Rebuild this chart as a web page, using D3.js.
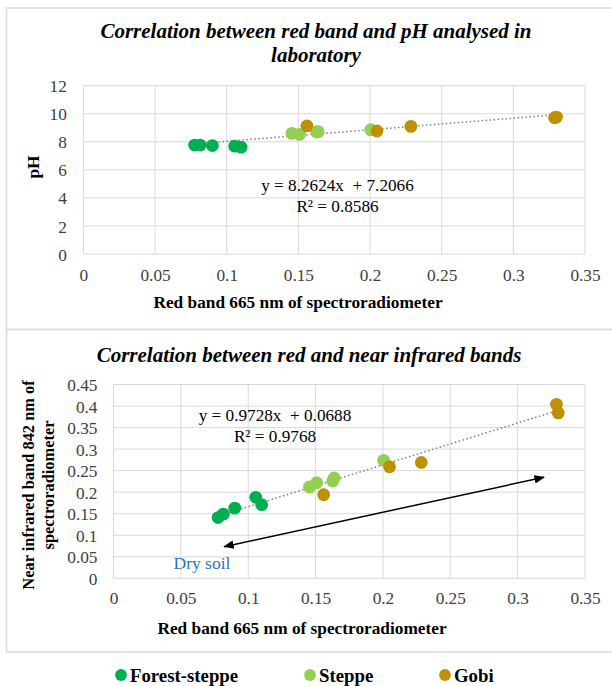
<!DOCTYPE html>
<html>
<head>
<meta charset="utf-8">
<script src="https://cdn.jsdelivr.net/npm/d3@7"></script>
<style>
  body { margin: 0; background: #fff; }
  svg { display: block; }
  .grid line { stroke: #d9d9d9; stroke-width: 1; }
  .tick text { fill: #404040; }
</style>
</head>
<body>
<svg id="chart" width="612" height="686"></svg>
<script>
// sample groups, in draw order
const groups = ["Forest-steppe", "Steppe", "Gobi"];
const groupColors = ["#00b050", "#92d050", "#bf9000"];

// red band 665 nm (x) for each group
const redForest = [0.0776, 0.0815, 0.0900, 0.1056, 0.1100];
const redSteppe = [0.1455, 0.1508, 0.1628, 0.1638, 0.2005];
const redGobi = [0.1560, 0.2049, 0.2285, 0.3288, 0.3301];

// pH analysed in laboratory
const phForest = [7.77, 7.77, 7.73, 7.69, 7.62];
const phSteppe = [8.6, 8.53, 8.7, 8.72, 8.86];
const phGobi = [9.13, 8.77, 9.1, 9.72, 9.76];

// near infrared band 842 nm
const nirForest = [0.141, 0.149, 0.163, 0.188, 0.171];
const nirSteppe = [0.212, 0.222, 0.226, 0.233, 0.274];
const nirGobi = [0.194, 0.259, 0.269, 0.404, 0.384];

const xTicks = [0, 0.05, 0.1, 0.15, 0.2, 0.25, 0.3, 0.35];
const phTicks = [0, 2, 4, 6, 8, 10, 12];
const nirTicks = [0, 0.05, 0.1, 0.15, 0.2, 0.25, 0.3, 0.35, 0.4, 0.45];

const phFit = { slope: 8.2624, intercept: 7.2066, label: "y = 8.2624x  + 7.2066", r2: "R² = 0.8586" };
const nirFit = { slope: 0.9728, intercept: 0.0688, label: "y = 0.9728x  + 0.0688", r2: "R² = 0.9768" };

// "dry soil" arrow end points, in data units of the lower chart
const arrowFrom = [0.0822, 0.0735];
const arrowTo = [0.3195, 0.2345];

const FONT = "Liberation Serif, Tinos, Times New Roman, DejaVu Serif, serif";
const svg = d3.select("#chart").style("font-family", FONT);

function pointsFor(xs, ys) {
  return xs.map((x, i) => ({ x, y: ys[i] }));
}

function drawPanel(cfg) {
  const g = svg.append("g");
  // panel frame
  g.append("rect").attr("x", 6.5).attr("y", cfg.top + 0.5).attr("width", 620).attr("height", cfg.height)
    .attr("fill", "#fff").attr("stroke", "#d9d9d9").attr("stroke-width", 1.5);

  const x = d3.scaleLinear().domain([0, 0.35]).range([cfg.left, 585]);
  const y = d3.scaleLinear().domain([0, cfg.yMax]).range([cfg.bottom, cfg.plotTop]);

  g.append("g").attr("class", "grid")
    .selectAll("line.h").data(cfg.yTicks).join("line")
    .attr("x1", cfg.left).attr("x2", 585).attr("y1", (d) => y(d)).attr("y2", (d) => y(d));
  g.append("g").attr("class", "grid")
    .selectAll("line.v").data(xTicks).join("line")
    .attr("x1", (d) => x(d)).attr("x2", (d) => x(d)).attr("y1", cfg.plotTop).attr("y2", cfg.bottom);

  const xAxis = g.append("g").attr("transform", `translate(0,${cfg.bottom})`)
    .call(d3.axisBottom(x).tickValues(xTicks).tickSize(0).tickPadding(cfg.xPad).tickFormat((d) => String(+d.toFixed(2))));
  xAxis.attr("font-family", null).attr("font-size", 17.3);
  xAxis.select(".domain").remove();
  const yAxis = g.append("g").attr("transform", `translate(${cfg.left},0)`)
    .call(d3.axisLeft(y).tickValues(cfg.yTicks).tickSize(0).tickPadding(cfg.yPad).tickFormat((d) => String(+d.toFixed(2))));
  yAxis.attr("font-family", null).attr("font-size", 17.3);
  yAxis.select(".domain").remove();
  yAxis.selectAll("text").attr("dy", "0.35em");

  // trendline over the sample range
  const all = cfg.series.flat();
  const [x0, x1] = d3.extent(all, (d) => d.x);
  g.append("line")
    .attr("x1", x(x0)).attr("y1", y(cfg.fit.slope * x0 + cfg.fit.intercept))
    .attr("x2", x(x1)).attr("y2", y(cfg.fit.slope * x1 + cfg.fit.intercept))
    .attr("stroke", "#7f7f7f").attr("stroke-width", 1.5).attr("stroke-dasharray", "1.5,2.5");

  cfg.series.forEach((pts, i) => {
    g.append("g").selectAll("circle").data(pts).join("circle")
      .attr("cx", (d) => x(d.x)).attr("cy", (d) => y(d.y)).attr("r", 6.4)
      .attr("fill", groupColors[i]);
  });

  cfg.title.forEach((t, i) => {
    g.append("text").attr("x", cfg.titleX).attr("y", cfg.titleY + i * 24).attr("text-anchor", "middle")
      .attr("font-size", 21).attr("font-weight", "bold").attr("font-style", "italic").attr("fill", "#000").text(t);
  });

  g.append("text").attr("x", cfg.eqX).attr("y", cfg.eqY).attr("text-anchor", "middle")
    .attr("font-size", 17.2).attr("fill", "#000").style("white-space", "pre").text(cfg.fit.label);
  g.append("text").attr("x", cfg.eqX).attr("y", cfg.eqY + 21).attr("text-anchor", "middle")
    .attr("font-size", 17.2).attr("fill", "#000").text(cfg.fit.r2);

  g.append("text").attr("x", cfg.xLabelX).attr("y", cfg.xLabelY).attr("text-anchor", "middle")
    .attr("font-size", 17.3).attr("font-weight", "bold").text("Red band 665 nm of spectroradiometer");

  cfg.yLabel.forEach((t, i) => {
    g.append("text").attr("transform", `translate(${cfg.yLabelX + i * 20},${cfg.yLabelY}) rotate(-90)`)
      .attr("text-anchor", "middle").attr("font-size", cfg.yLabelSize).attr("font-weight", "bold").text(t);
  });
  return { x, y, g };
}

drawPanel({
  top: 7.5, height: 321.5, left: 83.4, plotTop: 85.7, bottom: 254, yMax: 12, yTicks: phTicks, yPad: 16.5, xPad: 15,
  series: [pointsFor(redForest, phForest), pointsFor(redSteppe, phSteppe), pointsFor(redGobi, phGobi)],
  fit: phFit, title: ["Correlation between red band and pH analysed in", "laboratory"], titleX: 316, titleY: 38,
  eqX: 337.5, eqY: 191, xLabelX: 298, xLabelY: 308, yLabel: ["pH"], yLabelX: 39, yLabelY: 167, yLabelSize: 17.3
});

const bottom = drawPanel({
  top: 329, height: 322.5, left: 113.5, plotTop: 384.5, bottom: 578.3, yMax: 0.45, yTicks: nirTicks, yPad: 16, xPad: 13,
  series: [pointsFor(redForest, nirForest), pointsFor(redSteppe, nirSteppe), pointsFor(redGobi, nirGobi)],
  fit: nirFit, title: ["Correlation between red and near infrared bands"], titleX: 309, titleY: 362,
  eqX: 275, eqY: 421, xLabelX: 302, xLabelY: 634, yLabel: ["Near infrared band 842 nm of", "spectroradiometer"],
  yLabelX: 34, yLabelY: 485, yLabelSize: 16.4
});

// dry soil arrow
const defs = svg.append("defs");
defs.append("marker").attr("id", "head").attr("viewBox", "0 0 10 10").attr("refX", 9).attr("refY", 5)
  .attr("markerWidth", 7).attr("markerHeight", 7).attr("orient", "auto-start-reverse")
  .append("path").attr("d", "M0,1 L10,5 L0,9 z").attr("fill", "#000");
bottom.g.append("line")
  .attr("x1", bottom.x(arrowFrom[0])).attr("y1", bottom.y(arrowFrom[1]))
  .attr("x2", bottom.x(arrowTo[0])).attr("y2", bottom.y(arrowTo[1]))
  .attr("stroke", "#000").attr("stroke-width", 1.5)
  .attr("marker-start", "url(#head)").attr("marker-end", "url(#head)");
bottom.g.append("text").attr("x", 173.5).attr("y", 569).attr("font-size", 17.5).attr("fill", "#2e75b6").text("Dry soil");

// legend
const legendX = [121, 310, 445];
const legend = svg.append("g").selectAll("g").data(groups).join("g")
  .attr("transform", (d, i) => `translate(${legendX[i]},675)`);
legend.append("circle").attr("r", 5.9).attr("fill", (d, i) => groupColors[i]);
legend.append("text").attr("x", 9).attr("dy", "0.35em").attr("font-size", 18.8).attr("font-weight", "bold").text((d) => d);
</script>
</body>
</html>
